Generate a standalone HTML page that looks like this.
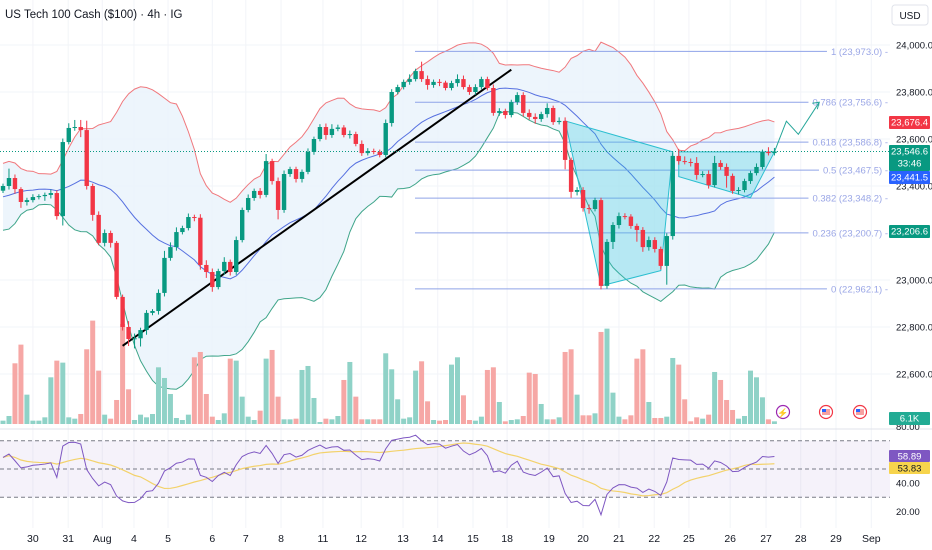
<!DOCTYPE html>
<html><head><meta charset="utf-8">
<style>
html,body{margin:0;padding:0;background:#fff;}
svg{display:block;font-family:"Liberation Sans",sans-serif;}
</style></head>
<body>
<svg id="chart" width="932" height="550" viewBox="0 0 932 550" xmlns="http://www.w3.org/2000/svg">
<g id="grid"></g>
<g id="bb"></g>
<g id="vol"></g>
<g id="fib"></g>
<g id="draw"></g>
<g id="candles"></g>
<g id="rsi"></g>
<g id="axes"></g>
<text x="5" y="18" font-size="11.5" fill="#131722">US Tech 100 Cash ($100) · 4h · IG</text>
<g><rect x="892" y="5" width="36" height="20" rx="3" fill="#fff" stroke="#e0e3eb"/><text x="910" y="19" font-size="10" text-anchor="middle" fill="#131722">USD</text></g>
</svg>
<script>
const preCloses=[23250,23300,23220,23180,23260,23320,23280,23350,23400,23380,23420,23450,23390,23360,23410,23440,23380,23350,23400,23390];
const firstOpen=23380;
const closes=[23400,23434,23387,23332,23340,23353,23357,23362,23370,23272,23587,23647,23651,23638,23400,23277,23158,23200,23158,22928,22800,22749,22752,22787,22860,22868,22945,23094,23140,23204,23221,23268,23265,23064,23034,22970,23038,23077,23034,23170,23298,23349,23379,23362,23506,23421,23298,23451,23472,23430,23460,23545,23600,23651,23617,23643,23649,23617,23621,23579,23540,23549,23545,23532,23668,23800,23821,23843,23855,23889,23855,23830,23843,23840,23817,23838,23855,23821,23800,23821,23855,23817,23711,23719,23702,23757,23787,23711,23694,23685,23706,23732,23672,23677,23511,23375,23383,23306,23302,23340,22975,23162,23234,23272,23270,23230,23213,23140,23170,23132,23060,23187,23528,23506,23502,23498,23447,23451,23404,23498,23481,23443,23379,23383,23421,23455,23481,23545,23540,23547];
const wickUp=[10,40,15,8,10,12,8,10,15,12,15,20,30,30,40,10,15,15,10,8,10,25,20,10,12,8,15,30,20,20,10,15,10,15,20,15,10,20,10,15,10,15,10,12,30,10,15,15,10,10,10,15,10,12,15,20,12,10,15,10,15,12,10,10,15,12,10,10,20,10,40,15,10,12,8,10,20,15,10,12,10,10,15,12,10,10,12,12,15,15,10,20,10,15,15,10,12,12,15,10,10,12,12,15,12,10,10,12,15,12,10,12,15,30,20,15,25,12,15,30,12,15,10,12,10,10,15,10,20,15];
const wickDn=[10,15,20,25,15,10,10,20,15,15,40,10,12,30,15,25,10,15,20,10,15,30,40,35,20,10,15,15,12,15,10,10,15,20,25,20,10,15,15,12,10,10,12,15,10,15,40,12,12,15,15,10,12,10,20,12,10,10,15,10,12,10,10,10,10,15,10,10,12,10,12,20,12,15,10,10,15,10,12,12,10,10,12,12,15,10,12,15,12,20,12,15,12,10,40,25,15,15,20,10,15,12,30,15,12,12,50,20,15,15,15,80,15,15,10,15,20,10,15,10,12,50,12,15,10,12,10,10,10,10];
const volumes=[5,12,91,119,44,5,5,10,70,95,92,10,8,15,112,155,80,14,8,36,150,52,6,14,10,15,85,69,45,9,6,14,100,108,45,11,6,16,98,95,41,11,6,20,98,111,41,7,7,8,81,87,39,3,8,7,12,66,93,41,7,7,7,7,106,82,37,8,10,80,94,34,6,5,6,89,100,43,6,5,11,81,85,33,4,6,7,12,77,75,30,7,7,10,108,112,44,13,13,16,138,143,47,11,7,13,98,112,33,9,9,11,99,89,37,4,10,8,14,78,66,36,21,8,12,80,70,40,7,4];
const priceTicks=[24000,23800,23600,23400,23000,22800,22600];
const rsiTicks=[80,40,20];
const dateLabels=["30","31","Aug","4","5","6","7","8","11","12","13","14","15","18","19","20","21","22","25","26","27","28","29","Sep"];
const dateIdx=[5,10.9,16.6,21.9,27.6,35,40.6,46.5,53.5,59.9,66.9,72.7,78.6,84.3,91.3,97,103,108.9,114.7,121.6,127.6,133.4,139.3,145.2];
const fibLevels=["1","0.786","0.618","0.5","0.382","0.236","0"];
const fibPrices=[23973,23756.6,23586.8,23467.5,23348.2,23200.7,22962.1];
const pattern1=[[94,23677],[100,22975],[110,23040],[112,23545]];
const pattern2=[[113,23545],[129,23545],[125,23350],[113,23440]];
const projection=[[129,23545],[131,23676],[133,23620],[136.5,23756.6]];
const trend=[[20,22720],[85,23895]];

const NS="http://www.w3.org/2000/svg";
const X=i=>3+i*5.98;
const Y=p=>45+(24000-p)*0.235;
const RY=v=>469-(v-50)*1.415;
const VY=v=>424-v*0.667;
function el(tag,attrs,parent){const e=document.createElementNS(NS,tag);for(const k in attrs)e.setAttribute(k,attrs[k]);parent.appendChild(e);return e;}
const G=id=>document.getElementById(id);
const n=closes.length;
const opens=closes.map((c,i)=>i===0?firstOpen:closes[i-1]);

const grid=G('grid');
priceTicks.forEach(p=>{const l=el('line',{x1:0,x2:890,y1:Y(p),y2:Y(p),stroke:'#f2f4f8'},grid);});
dateIdx.forEach(d=>{const l=el('line',{x1:X(d),x2:X(d),y1:0,y2:528,stroke:'#f2f4f8'},grid);});

const all=preCloses.concat(closes);const up=[],mid=[],lo=[];
for(let i=0;i<n;i++){const k=i+preCloses.length;const w=all.slice(k-19,k+1);const m=w.reduce((a,b)=>a+b,0)/20;const sd=Math.sqrt(w.reduce((a,b)=>a+(b-m)*(b-m),0)/20);up.push(m+2*sd);mid.push(m);lo.push(m-2*sd);}
const bb=G('bb');
let fillD='M'+up.map((v,i)=>X(i)+','+Y(v)).join('L')+'L'+lo.map((v,i)=>X(i)+','+Y(v)).reverse().join('L')+'Z';
let f=el('path',{d:fillD,fill:'#e8f3fb',opacity:0.8},bb);
[[up,'#f0787d','bb-upper'],[mid,'#5670e0','bb-basis'],[lo,'#3fa58a','bb-lower']].forEach(([a,c,nm])=>{const p=el('polyline',{points:a.map((v,i)=>X(i)+','+Y(v)).join(' '),fill:'none',stroke:c,'stroke-width':1},bb);});

const vol=G('vol');
volumes.forEach((v,i)=>{const r=el('rect',{x:X(i)-2.5,y:VY(v),width:5,height:424-VY(v),fill:closes[i]>=opens[i]?'#8fd2c7':'#f6a7a5'},vol);});

const fib=G('fib');
fibLevels.forEach((lv,k)=>{const y=Y(fibPrices[k]);const t=el('text',{x:888,y:y+3.5,'font-size':9.5,'text-anchor':'end',fill:'#9aa6e6'},fib);t.textContent=lv+' ('+fibPrices[k].toLocaleString('en-US',{minimumFractionDigits:1,maximumFractionDigits:1})+') -';const w=t.getComputedTextLength();const l=el('line',{x1:415,x2:888-w-4,y1:y,y2:y,stroke:'#8fa3e8','stroke-width':1},fib);});

const dr=G('draw');
[pattern1,pattern2].forEach((pt,k)=>{const p=el('polygon',{points:pt.map(q=>X(q[0])+','+Y(q[1])).join(' '),fill:'rgba(38,198,218,0.28)',stroke:'#2cbfd0','stroke-width':1},dr);});
let pr=el('polyline',{points:projection.map(q=>X(q[0])+','+Y(q[1])).join(' '),fill:'none',stroke:'#26a69a','stroke-width':1},dr);
const ex=X(projection[3][0]),ey=Y(projection[3][1]);
let ah=el('polyline',{points:(ex-7)+','+(ey+1)+' '+ex+','+ey+' '+(ex-2)+','+(ey+7),fill:'none',stroke:'#26a69a','stroke-width':1},dr);
let tl=el('line',{x1:X(trend[0][0]),y1:Y(trend[0][1]),x2:X(trend[1][0]),y2:Y(trend[1][1]),stroke:'#000','stroke-width':2},dr);
let cp=el('line',{x1:0,x2:890,y1:Y(closes[n-1]),y2:Y(closes[n-1]),stroke:'#089981','stroke-dasharray':'1 2'},dr);

const cg=G('candles');
closes.forEach((c,i)=>{const o=opens[i];const col=c>=o?'#089981':'#f23645';const hi=Math.max(o,c)+wickUp[i],lw=Math.min(o,c)-wickDn[i];
const w=el('line',{x1:X(i),x2:X(i),y1:Y(hi),y2:Y(lw),stroke:col,'stroke-width':1},cg);
const b=el('rect',{x:X(i)-2.2,y:Y(Math.max(o,c)),width:4.4,height:Math.max(1,Math.abs(Y(o)-Y(c))),fill:col},cg);});

const rg=G('rsi');
let sep=el('line',{x1:0,x2:932,y1:429,y2:429,stroke:'#e0e3eb'},rg);
let band=el('rect',{x:0,y:RY(70),width:890,height:RY(30)-RY(70),fill:'rgba(126,87,194,0.08)'},rg);
[70,50,30].forEach(v=>{const l=el('line',{x1:0,x2:890,y1:RY(v),y2:RY(v),stroke:'#787b86','stroke-dasharray':'4 3','stroke-width':1},rg);});
let ag=0,al=0;const P=14;const rsi=[];
for(let k=1;k<all.length;k++){const d=all[k]-all[k-1];const g=Math.max(d,0),ls=Math.max(-d,0);if(k<=P){ag+=g/P;al+=ls/P;}else{ag=(ag*(P-1)+g)/P;al=(al*(P-1)+ls)/P;}
if(k>=preCloses.length){rsi.push(al===0?100:100-100/(1+ag/al));}}
const rsiV=rsi.slice(rsi.length-n);
const rma=rsiV.map((v,i)=>{const s=Math.max(0,i-13);const w=rsiV.slice(s,i+1);return w.reduce((a,b)=>a+b,0)/w.length;});
let ym=el('polyline',{points:rma.map((v,i)=>X(i)+','+RY(v)).join(' '),fill:'none',stroke:'#f3d26b','stroke-width':1.2},rg);
let rl=el('polyline',{points:rsiV.map((v,i)=>X(i)+','+RY(v)).join(' '),fill:'none',stroke:'#7e57c2','stroke-width':1},rg);

const ax=G('axes');
priceTicks.forEach(p=>{const t=el('text',{x:896,y:Y(p)+3.5,'font-size':9.5,fill:'#131722'},ax);t.textContent=p.toLocaleString('en-US',{minimumFractionDigits:1});});
rsiTicks.forEach(v=>{const t=el('text',{x:896,y:RY(v)+3.5,'font-size':9.5,fill:'#131722'},ax);t.textContent=v.toFixed(2);});
dateLabels.forEach((d,k)=>{const t=el('text',{x:X(dateIdx[k]),y:542,'font-size':10.5,'text-anchor':'middle',fill:'#131722'},ax);t.textContent=d;});
function badge(y,h,fill,lines,nm,tc){const g=el('g',{},ax);el('rect',{x:889,y:y,width:41,height:h,fill:fill,rx:1},g);lines.forEach((s,j)=>{const t=el('text',{x:909.5,y:y+9.5+j*12,'font-size':9.5,'text-anchor':'middle',fill:tc||'#fff'},g);t.textContent=s;});}
badge(116,13,'#f23645',['23,676.4'],'bb-upper-badge');
badge(145,26,'#089981',['23,546.6','33:46'],'last-price-badge');
badge(171,13,'#2962ff',['23,441.5'],'bb-basis-badge');
badge(225,13,'#089981',['23,206.6'],'bb-lower-badge');
badge(412,13,'#22ab94',['6.1K'],'volume-badge');
badge(450,12,'#7e57c2',['58.89'],'rsi-badge');
badge(462,12,'#f7d44c',['53.83'],'rsi-ma-badge','#131722');
const ev=el('g',{},ax);
el('circle',{cx:783,cy:412,r:6.5,fill:'#fff',stroke:'#9c27b0','stroke-width':1.2},ev);
let lt=el('text',{x:783,y:416,'font-size':9,'text-anchor':'middle',fill:'#9c27b0'},ev);lt.textContent='⚡';
[826,860].forEach(cx=>{el('circle',{cx:cx,cy:412,r:6.5,fill:'#fff',stroke:'#f23645','stroke-width':1.2},ev);el('rect',{x:cx-4,y:409,width:8,height:6,fill:'#f7a0a0'},ev);el('rect',{x:cx-4,y:409,width:4,height:3,fill:'#2962ff'},ev);});
</script>
</body></html>
